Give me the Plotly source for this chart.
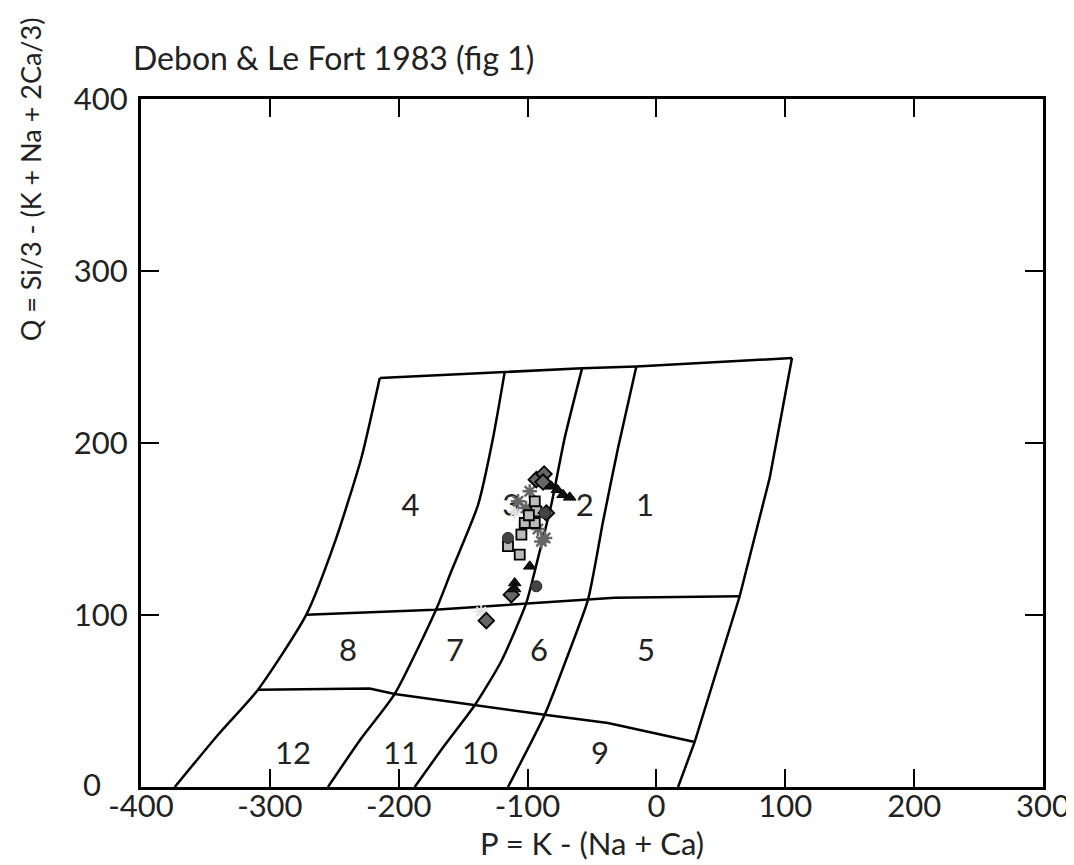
import plotly.graph_objects as go

# ---- field boundaries (P, Q) ----
top_x = [-214.7, -117.7, -57.7, -15.6, 105.2]
top_y = [237.8, 241.5, 243.4, 244.5, 249.4]
left_x = [-214.7, -229.0, -248.9, -271.7, -309.2, -340.2, -373.8]
left_y = [237.8, 191.3, 143.8, 100.2, 56.6, 30.4, 0.0]
right_x = [105.2, 87.9, 64.6, 29.7, 16.8]
right_y = [249.4, 179.7, 110.9, 26.2, 0.0]
mid_x = [-271.7, -172.1, -32.4, 64.6]
mid_y = [100.2, 103.1, 110.0, 110.9]
low_x = [-309.2, -222.5, -203.1, -141.0, -86.7, -37.6, 29.7]
low_y = [56.6, 57.2, 54.1, 47.5, 42.0, 37.2, 26.2]
cA_x = [-117.7, -126.8, -138.4, -159.2, -170.8, -203.1, -230.0, -254.9]
cA_y = [241.5, 202.9, 164.1, 125.4, 103.5, 54.1, 27.3, 0.0]
cB_x = [-57.7, -71.2, -81.6, -91.9, -101.0, -120.4, -141.0, -164.8, -187.6]
cB_y = [243.4, 202.9, 164.1, 133.1, 107.0, 73.1, 47.5, 23.8, 0.0]
cC_x = [-15.6, -29.8, -41.4, -53.1, -68.6, -86.7, -115.2]
cC_y = [244.5, 197.1, 154.5, 108.9, 76.9, 42.0, 0.0]

# ---- field labels ----
lab_text = ["1", "2", "3", "4", "5", "6", "7", "8", "9", "10", "11", "12"]
lab_x = [-8.8, -55.6, -112.6, -190.9, -8.1, -91.1, -156.3, -239.3, -43.8, -136.9, -198.2, -282.0]
lab_y = [162.2, 162.2, 162.2, 162.2, 77.9, 77.9, 77.9, 77.9, 18.0, 18.0, 18.0, 18.0]

# ---- samples ----
dia_x = [-93.2, -87.2, -88.0, -85.4, -112.6, -132.0]
dia_y = [178.7, 182.0, 177.3, 159.3, 111.8, 96.7]
tri_x = [-81.6, -76.9, -72.5, -67.3, -98.3, -110.0, -110.0]
tri_y = [174.8, 172.8, 169.9, 168.4, 128.3, 118.6, 115.1]
cir_x = [-93.2, -115.2, -86.7]
cir_y = [116.7, 144.8, 159.3]
sq_x = [-94.4, -93.2, -102.2, -94.4, -104.8, -115.2, -106.1, -99.0]
sq_y = [166.1, 160.3, 153.5, 153.5, 146.7, 140.1, 135.1, 158.0]
ast_x = [-98.3, -107.4, -89.3, -86.4, -101.2, -92.0]
ast_y = [171.9, 166.1, 142.8, 144.8, 162.2, 150.0]
lt_x = [-110.0, -104.0, -136.0]
lt_y = [160.0, 150.0, 102.0]

x_ticks = [-400, -300, -200, -100, 0, 100, 200, 300]
y_ticks = [0, 100, 200, 300, 400]

FONT = "Lato"
TXT = "#222222"
fig = go.Figure()
line_style = dict(color="black", width=2.5)
for xs, ys in [(top_x, top_y), (mid_x, mid_y), (low_x, low_y), (right_x, right_y)]:
    fig.add_trace(go.Scatter(x=xs, y=ys, mode="lines", line=line_style,
                             hoverinfo="skip", showlegend=False))
for xs, ys in [(left_x, left_y), (cA_x, cA_y), (cB_x, cB_y), (cC_x, cC_y)]:
    fig.add_trace(go.Scatter(x=xs, y=ys, mode="lines",
                             line=dict(color="black", width=2.5, shape="spline", smoothing=0.6),
                             hoverinfo="skip", showlegend=False))

fig.add_trace(go.Scatter(x=lab_x, y=lab_y, mode="text", text=lab_text,
                         textfont=dict(family=FONT, size=31, color=TXT), showlegend=False))

fig.add_trace(go.Scatter(x=lt_x, y=lt_y, mode="markers", showlegend=False,
                         marker=dict(symbol="asterisk-open", size=11, color="#e0e0e0",
                                     line=dict(color="#e0e0e0", width=2))))
fig.add_trace(go.Scatter(x=ast_x, y=ast_y, mode="markers", showlegend=False,
                         marker=dict(symbol="asterisk-open", size=12, color="#666666",
                                     line=dict(color="#666666", width=2.5))))
fig.add_trace(go.Scatter(x=sq_x, y=sq_y, mode="markers", showlegend=False,
                         marker=dict(symbol="square", size=10, color="#bbbbbb", line=dict(color="black", width=1.8))))
fig.add_trace(go.Scatter(x=dia_x, y=dia_y, mode="markers", showlegend=False,
                         marker=dict(symbol="diamond", size=12, color="#666666", line=dict(color="black", width=1.8))))
fig.add_trace(go.Scatter(x=tri_x, y=tri_y, mode="markers", showlegend=False,
                         marker=dict(symbol="triangle-up", size=11, color="#111111", line=dict(color="black", width=1))))
fig.add_trace(go.Scatter(x=cir_x, y=cir_y, mode="markers", showlegend=False,
                         marker=dict(symbol="circle", size=11, color="#444444", line=dict(color="#222222", width=1))))

axis_common = dict(showgrid=False, zeroline=False, showline=True, linecolor="black", linewidth=3,
                   mirror="ticks", ticks="inside", ticklen=18, tickwidth=2, tickcolor="black",
                   tickfont=dict(family=FONT, size=31, color=TXT))
fig.update_xaxes(range=[-400, 300], tickvals=x_ticks, ticktext=[str(v) for v in x_ticks],
                 ticklabelstandoff=-10, **axis_common)
fig.update_yaxes(range=[0, 400], tickvals=y_ticks,
                 ticktext=["" if v == 0 else str(v) for v in y_ticks], ticklabelstandoff=4, **axis_common)

# y-axis "0" label placed a little left so it clears the "-400" x label
fig.add_annotation(text=str(y_ticks[0]), xref="paper", yref="paper", x=-0.054, y=0.004,
                   xanchor="center", yanchor="middle", showarrow=False,
                   font=dict(family=FONT, size=31, color=TXT))

fig.add_annotation(text="Debon & Le Fort 1983 (fig 1)", xref="paper", yref="paper", x=-0.011, y=1.06,
                   xanchor="left", yanchor="middle", showarrow=False,
                   font=dict(family=FONT, size=32, color=TXT))
fig.add_annotation(text="P = K - (Na + Ca)", xref="paper", yref="paper", x=0.5, y=-0.082,
                   xanchor="center", yanchor="middle", showarrow=False,
                   font=dict(family=FONT, size=31, color=TXT))
fig.add_annotation(text="Q = Si/3 - (K + Na + 2Ca/3)", xref="paper", yref="y", x=-0.123, y=258,
                   xanchor="center", yanchor="bottom", textangle=-90, showarrow=False,
                   font=dict(family=FONT, size=27, color=TXT))

fig.update_layout(width=1074, height=865, margin=dict(l=133, r=39, t=91, b=86),
                  plot_bgcolor="white", paper_bgcolor="white", showlegend=False)
fig.write_html("out.html")
